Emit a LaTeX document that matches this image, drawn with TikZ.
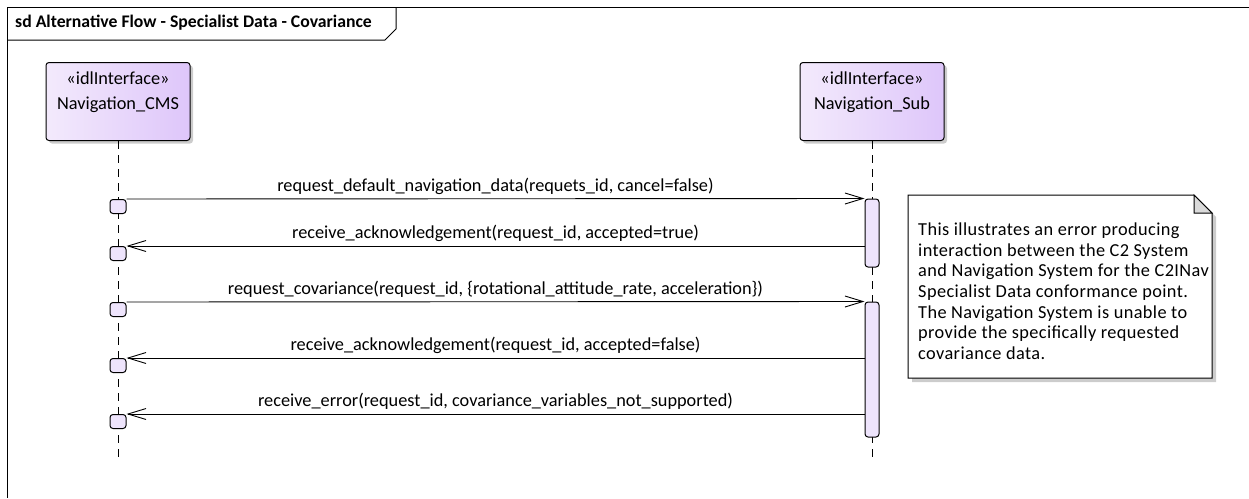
\documentclass[tikz,border=0pt]{standalone}
\usepackage{fontspec}
\setmainfont{Carlito}
\newfontfamily\notefont[LetterSpace=2.2]{Carlito}
\usepackage{tikz}
\usetikzlibrary{arrows.meta,positioning,shadows}
\definecolor{headleft}{RGB}{243,234,252}
\definecolor{headright}{RGB}{222,198,250}
\definecolor{actfill}{RGB}{238,228,252}
\definecolor{foldgray}{RGB}{218,218,218}
\newcommand{\cmsx}{118}
\newcommand{\subx}{872}
\newcommand{\msgfont}{\fontsize{18.3}{25}\selectfont}
\newcommand{\occurrence}[2]{\node[occbox] (#1) at (\cmsx,#2) {};}
\newcommand{\headlabel}[3]{\node[headtext, below=9.5pt of #1.north] (#2) {«idlInterface»\\#3};}
\tikzset{
  lifehead/.style={draw=black, line width=1pt, rounded corners=3pt,
    minimum width=144pt, minimum height=78pt, left color=headleft, right color=headright,
    drop shadow={shadow xshift=3pt, shadow yshift=-3pt, fill=black!20, opacity=1}},
  headtext/.style={font=\msgfont, align=center, inner sep=0pt},
  lifeline/.style={line width=1pt, dash pattern=on 8pt off 6pt},
  actbar/.style={draw=black, line width=1pt, rounded corners=3pt, fill=actfill,
    minimum width=14pt, inner sep=0pt},
  occbox/.style={draw=black, line width=1pt, rounded corners=3pt, fill=actfill,
    minimum width=16pt, minimum height=14pt, inner sep=0pt, anchor=north},
  msg/.style={line width=0.9pt, -{Straight Barb[length=18pt,width=11pt,line width=0.9pt]}},
  msglabel/.style={midway, above=2pt, font=\msgfont, inner sep=1pt, text depth=4pt}
}
\begin{document}
\begin{tikzpicture}[x=1pt,y=-1pt]
    \useasboundingbox (0,0) rectangle (1249,498);
    \draw[line width=1pt] (1249,7) -- (7,7) -- (7,498);
    \draw[line width=1pt] (7,40) -- (385,40) -- (396,29) -- (396,7);
    \node[font=\fontsize{17.7}{20}\selectfont\bfseries, anchor=west, inner sep=0pt] (title) at (15,23) {sd Alternative Flow - Specialist Data - Covariance};

    \node[lifehead] (cms) at (\cmsx,101.5) {};
    \node[lifehead] (sub) at (\subx,101.5) {};
    \headlabel{cms}{cmsname}{Navigation\_CMS}
    \headlabel{sub}{subname}{Navigation\_Sub}

    \coordinate (cmsend) at (\cmsx,462);
    \coordinate (subend) at (\subx,462);
    \draw[lifeline] (cms.south) -- (cmsend);
    \draw[lifeline] (sub.south) -- (subend);

    \node[actbar, minimum height=68pt] (act1) at (\subx,233) {};
    \node[actbar, minimum height=135pt] (act2) at (\subx,369.5) {};

    \occurrence{occ1}{199}
    \occurrence{occ2}{246}
    \occurrence{occ3}{302}
    \occurrence{occ4}{358}
    \occurrence{occ5}{414}

    \draw[msg] (occ1.north east) -- (act1.north west)
        node[msglabel] {request\_default\_navigation\_data(requets\_id, cancel=false)};
    \draw[msg] (act1.west |- occ2.north) -- (occ2.north east)
        node[msglabel] {receive\_acknowledgement(request\_id, accepted=true)};
    \draw[msg] (occ3.north east) -- (act2.north west)
        node[msglabel] {request\_covariance(request\_id, \{rotational\_attitude\_rate, acceleration\})};
    \draw[msg] (act2.west |- occ4.north) -- (occ4.north east)
        node[msglabel] {receive\_acknowledgement(request\_id, accepted=false)};
    \draw[msg] (act2.west |- occ5.north) -- (occ5.north east)
        node[msglabel] {receive\_error(request\_id, covariance\_variables\_not\_supported)};

    \fill[black!20] (912,199) -- (1198,199) -- (1216,217) -- (1216,382) -- (912,382) -- cycle;
    \filldraw[fill=white, line width=1pt] (908,195) -- (1194,195) -- (1212,213) -- (1212,378) -- (908,378) -- cycle;
    \filldraw[fill=foldgray, line width=1pt] (1194,195) -- (1194,213) -- (1212,213) -- cycle;
    \node[font={\notefont\fontsize{18.3}{20.7}\selectfont}, align=left, anchor=north west, inner sep=0pt] (note) at (918,222.5) {This illustrates an error producing\\interaction between the C2 System\\and Navigation System for the C2INav\\Specialist Data conformance point.\\The Navigation System is unable to\\provide the specifically requested\\covariance data.};
\end{tikzpicture}
\end{document}
